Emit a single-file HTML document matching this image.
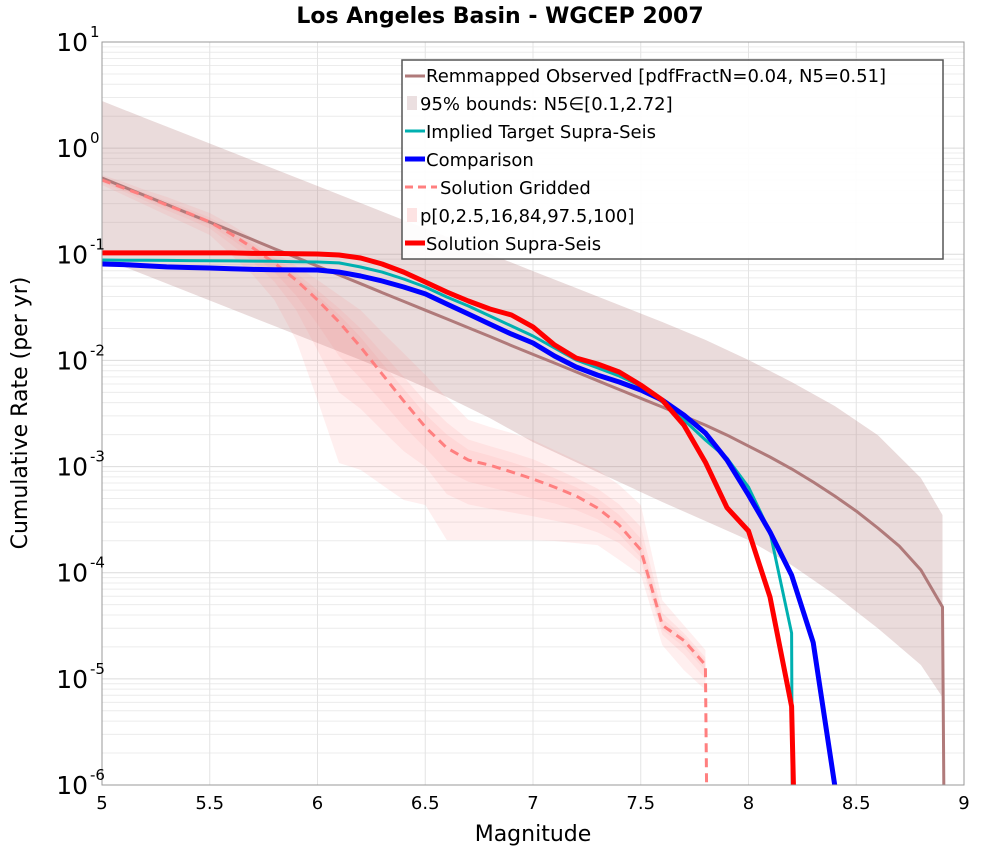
<!DOCTYPE html>
<html><head><meta charset="utf-8"><style>
body{margin:0;background:#fff;width:1000px;height:850px;overflow:hidden;font-family:"Liberation Sans","DejaVu Sans",sans-serif}
svg text{font-family:"DejaVu Sans","Liberation Sans",sans-serif}
</style></head><body>
<svg id="chart" width="1000" height="850" xmlns="http://www.w3.org/2000/svg">
<text x="500" y="23" text-anchor="middle" font-size="22" font-weight="bold">Los Angeles Basin - WGCEP 2007</text>
<g id="grid"></g>
<g id="bands"></g>
<g id="lines"></g>
<rect x="102" y="42" width="862" height="743" fill="none" stroke="#999" stroke-width="1"/>
<g id="xticks"></g>
<g id="yticks"></g>
<text x="533" y="841" text-anchor="middle" font-size="22">Magnitude</text>
<text transform="translate(27,413) rotate(-90)" text-anchor="middle" font-size="22">Cumulative Rate (per yr)</text>
<g id="legend">
<rect x="402" y="60" width="541" height="199" fill="#fff" fill-opacity="0.9" stroke="#555" stroke-width="1.5"/>
<line x1="405" y1="76" x2="425" y2="76" stroke="#b07a7a" stroke-width="3"/>
<text x="426" y="82" font-size="18">Remmapped Observed [pdfFractN=0.04, N5=0.51]</text>
<rect x="407" y="96" width="10" height="14" fill="#ebdfe0"/>
<text x="420" y="110" font-size="18">95% bounds: N5∈[0.1,2.72]</text>
<line x1="405" y1="131" x2="425" y2="131" stroke="#00b0b0" stroke-width="3"/>
<text x="426" y="138" font-size="18">Implied Target Supra-Seis</text>
<line x1="405" y1="159" x2="425" y2="159" stroke="#0000ff" stroke-width="5"/>
<text x="426" y="166" font-size="18">Comparison</text>
<line x1="405" y1="187" x2="437" y2="187" stroke="#ff7f7f" stroke-width="3" stroke-dasharray="8,5"/>
<text x="440" y="194" font-size="18">Solution Gridded</text>
<rect x="407" y="208" width="10" height="14" fill="#fde3e3"/>
<text x="420" y="222" font-size="18">p[0,2.5,16,84,97.5,100]</text>
<line x1="405" y1="243" x2="425" y2="243" stroke="#ff0000" stroke-width="5"/>
<text x="426" y="250" font-size="18">Solution Supra-Seis</text>
</g>
</svg>
<script>
const magsFine = [5.0,5.1,5.2,5.3,5.4,5.5,5.6,5.7,5.8,5.9,6.0,6.1,6.2,6.3,6.4,6.5,6.6,6.7,6.8,6.9,7.0,7.1,7.2,7.3,7.4,7.5,7.6,7.7,7.8,7.9,8.0,8.1,8.2,8.3,8.4,8.5,8.6,8.7,8.8,8.9,8.91];
const observedRates = [0.523,0.432,0.357,0.295,0.243,0.201,0.166,0.137,0.113,0.0937,0.0774,0.0639,0.0528,0.0436,0.036,0.0297,0.0246,0.0203,0.0168,0.0138,0.0114,0.00945,0.0078,0.00644,0.00532,0.0044,0.00364,0.00299,0.00246,0.00198,0.00156,0.00123,0.00095,0.000716,0.000528,0.000381,0.000264,0.000178,0.000106,4.75e-5,1e-7];
const boundMags = [5.0,5.2,5.4,5.6,5.8,6.0,6.2,6.4,6.6,6.8,7.0,7.2,7.4,7.6,7.8,8.0,8.2,8.4,8.6,8.8,8.9];
const boundUpper = [2.78,1.92,1.33,0.92,0.636,0.44,0.304,0.21,0.146,0.1007,0.0695,0.0481,0.0333,0.023,0.0156,0.0101,0.00626,0.00372,0.00198,0.00078,0.00035];
const boundLower = [0.0923,0.0638,0.0441,0.0305,0.0211,0.0146,0.0101,0.00683,0.00452,0.00286,0.0017,0.0011,0.000716,0.000464,0.000307,0.000203,0.000118,6.2e-5,3.0e-5,1.35e-5,6.7e-6];
const solMags = [5.0,5.1,5.2,5.3,5.4,5.5,5.6,5.7,5.8,5.9,6.0,6.1,6.2,6.3,6.4,6.5,6.6,6.7,6.8,6.9,7.0,7.1,7.2,7.3,7.4,7.5,7.6,7.7,7.8,7.9,8.0,8.1,8.2,8.22];
const solutionRates = [0.103,0.103,0.103,0.103,0.103,0.103,0.103,0.102,0.102,0.101,0.1007,0.0985,0.0923,0.081,0.068,0.0548,0.0441,0.0363,0.0305,0.0268,0.0207,0.014,0.01055,0.00925,0.00778,0.00586,0.00423,0.00246,0.0011,0.00041,0.000247,5.9e-5,5.5e-6,1e-7];
const targetMags = [5.0,5.1,5.2,5.3,5.4,5.5,5.6,5.7,5.8,5.9,6.0,6.1,6.2,6.3,6.4,6.5,6.6,6.7,6.8,6.9,7.0,7.1,7.2,7.3,7.4,7.5,7.6,7.7,7.8,7.9,8.0,8.1,8.2,8.205];
const targetRates = [0.0883,0.088,0.0878,0.0875,0.0872,0.087,0.0866,0.0862,0.0858,0.0852,0.0846,0.083,0.0759,0.068,0.0585,0.0492,0.0396,0.0326,0.0262,0.0211,0.017,0.0131,0.0101,0.0085,0.00713,0.00574,0.00406,0.00275,0.00178,0.0012,0.00064,0.000242,2.7e-5,1e-7];
const compMags = [5.0,5.1,5.2,5.3,5.4,5.5,5.6,5.7,5.8,5.9,6.0,6.1,6.2,6.3,6.4,6.5,6.6,6.7,6.8,6.9,7.0,7.1,7.2,7.3,7.4,7.5,7.6,7.7,7.8,7.9,8.0,8.1,8.2,8.3,8.4];
const comparisonRates = [0.081,0.08,0.078,0.076,0.075,0.0743,0.073,0.072,0.0715,0.0712,0.0711,0.068,0.0624,0.056,0.0492,0.0423,0.034,0.0274,0.022,0.0177,0.0146,0.011,0.00867,0.00728,0.00626,0.00526,0.00423,0.00306,0.00207,0.00115,0.00054,0.000242,9.5e-5,2.2e-5,1e-6];
const gridMags = [5.0,5.1,5.2,5.3,5.4,5.5,5.6,5.7,5.8,5.9,6.0,6.1,6.2,6.3,6.4,6.5,6.6,6.7,6.8,6.9,7.0,7.1,7.2,7.3,7.4,7.5,7.6,7.7,7.8];
const griddedRates = [0.501,0.421,0.354,0.291,0.245,0.201,0.155,0.1146,0.0828,0.0573,0.0371,0.023,0.01337,0.00745,0.00415,0.00236,0.0015,0.00115,0.00103,0.00089,0.000764,0.000641,0.000528,0.000407,0.000281,0.000164,3.2e-5,2.3e-5,1.35e-5];
const p100 = [0.558,0.48,0.403,0.347,0.291,0.245,0.189,0.142,0.105,0.0776,0.0573,0.0413,0.0298,0.0185,0.0117,0.0073,0.00443,0.00275,0.00236,0.00207,0.00178,0.00143,0.00115,0.00093,0.00067,0.000434,5.5e-5,3.2e-5,1.87e-5];
const p0 = [0.45,0.362,0.291,0.234,0.189,0.152,0.0984,0.0638,0.0371,0.0156,0.00424,0.00108,0.00093,0.00067,0.000484,0.000434,0.000203,0.000203,0.000203,0.000203,0.000203,0.000199,0.00019,0.000182,0.000132,9.5e-5,2.08e-5,1.21e-5,7.85e-6];
const p975 = [0.53,0.45,0.378,0.318,0.267,0.222,0.171,0.128,0.093,0.067,0.046,0.031,0.02,0.0118,0.007,0.0041,0.0026,0.0018,0.00156,0.00136,0.00117,0.00096,0.00078,0.00062,0.00044,0.00027,4.2e-5,2.7e-5,1.6e-5];
const p25 = [0.475,0.39,0.32,0.26,0.215,0.175,0.124,0.085,0.055,0.03,0.0125,0.005,0.0035,0.0022,0.0014,0.001,0.00055,0.00044,0.0004,0.00037,0.00034,0.00031,0.00028,0.00024,0.00019,0.000125,2.6e-5,1.7e-5,1.0e-5];
const p84 = [0.515,0.435,0.366,0.304,0.256,0.211,0.163,0.121,0.088,0.062,0.041,0.027,0.0165,0.0094,0.0054,0.0031,0.002,0.00144,0.00127,0.0011,0.00094,0.00078,0.00064,0.0005,0.00035,0.00021,3.7e-5,2.5e-5,1.5e-5];
const p16 = [0.488,0.405,0.337,0.275,0.23,0.188,0.139,0.1,0.068,0.041,0.022,0.011,0.0068,0.0041,0.0024,0.0015,0.00091,0.00072,0.00064,0.00057,0.0005,0.00045,0.00039,0.00032,0.00023,0.00014,2.9e-5,2.0e-5,1.2e-5];
const xTickLabels = ["5","5.5","6","6.5","7","7.5","8","8.5","9"];
const yExponents = [1,0,-1,-2,-3,-4,-5,-6];

const X0=102,X1=964,Y0=42,Y1=785,MMIN=5,MMAX=9,EMAX=1,EMIN=-6;
const NS="http://www.w3.org/2000/svg";
function xs(m){return X0+(m-MMIN)/(MMAX-MMIN)*(X1-X0);}
function ys(v){const e=Math.log10(Math.max(v,1e-9));return Y0+(EMAX-e)/(EMAX-EMIN)*(Y1-Y0);}
function mk(tag,attrs,parent){const el=document.createElementNS(NS,tag);for(const k in attrs)el.setAttribute(k,attrs[k]);parent.appendChild(el);return el;}
const clipDefs=mk('defs',{},document.getElementById('chart'));
const cp=mk('clipPath',{id:'plotclip'},clipDefs);mk('rect',{x:X0,y:Y0,width:X1-X0,height:Y1-Y0},cp);
const grid=document.getElementById('grid');
for(let e=EMIN;e<EMAX;e++){for(let k=1;k<=9;k++){const y=ys(k*Math.pow(10,e));
const gl=mk('line',{x1:X0,x2:X1,y1:y,y2:y,stroke:k===1?'#dcdcdc':'#ececec','stroke-width':1},grid);

}}
const xg=document.getElementById('xticks');
xTickLabels.forEach(function(t){const m=parseFloat(t);const x=xs(m);
const gl=mk('line',{x1:x,x2:x,y1:Y0,y2:Y1,stroke:'#e4e4e4','stroke-width':1},grid);


const tx=mk('text',{x:x,y:809,'text-anchor':'middle','font-size':18},xg);tx.textContent=t;

});
const yg=document.getElementById('yticks');
yExponents.forEach(function(e){const y=ys(Math.pow(10,e));
const tx=mk('text',{x:88,y:y+9,'text-anchor':'end','font-size':25},yg);tx.textContent='10';


const sp=mk('text',{x:90,y:y-5,'text-anchor':'start','font-size':15},yg);sp.textContent=String(e);

});
function pts(ms,vs){return ms.map(function(m,i){return xs(m).toFixed(1)+','+ys(vs[i]).toFixed(1);});}
const bands=document.getElementById('bands');bands.setAttribute('clip-path','url(#plotclip)');
function band(ms,up,lo,fill,op,name){const a=pts(ms,up),b=pts(ms,lo).reverse();
const p=mk('polygon',{points:a.concat(b).join(' '),fill:fill,'fill-opacity':op},bands);

}
band(boundMags,boundUpper,boundLower,'#b07a7a',0.27,'observed-95-bounds');
band(gridMags,p100,p0,'#ff8080',0.13,'gridded-p0-p100');
band(gridMags,p975,p25,'#ff8080',0.11,'gridded-p2.5-p97.5');
band(gridMags,p84,p16,'#ff8080',0.1,'gridded-p16-p84');
const lines=document.getElementById('lines');lines.setAttribute('clip-path','url(#plotclip)');
function line(ms,vs,color,w,name,dash){const attrs={points:pts(ms,vs).join(' '),fill:'none',stroke:color,'stroke-width':w,'stroke-linejoin':'round'};if(dash)attrs['stroke-dasharray']=dash;
const p=mk('polyline',attrs,lines);

}
line(magsFine,observedRates,'#b07a7a',3,'observed-line');
const gm=gridMags.concat([7.81]),gv=griddedRates.concat([1e-7]);
line(gm,gv,'#ff7f7f',3,'gridded-line','9,6');
line(targetMags,targetRates,'#00b0b0',3,'target-line');
line(compMags,comparisonRates,'#0000ff',5,'comparison-line');
line(solMags,solutionRates,'#ff0000',5,'solution-line');
</script>
</body></html>
